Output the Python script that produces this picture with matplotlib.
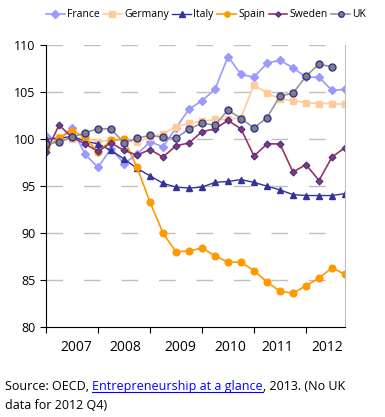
import numpy as np
import matplotlib
matplotlib.use("Agg")
import matplotlib.pyplot as plt

plt.rcParams['font.family'] = ['Open Sans', 'DejaVu Sans']

# quarterly index, 2007 Q1 .. 2012 Q4
years = ["2007", "2008", "2009", "2010", "2011", "2012"]
france = [100.3, 100.0, 101.2, 98.4, 97.0, 99.0, 97.4, 98.4, 99.7, 99.2, 101.2, 103.2,
          104.1, 105.3, 108.8, 106.9, 106.6, 108.1, 108.4, 107.6, 106.6, 106.6, 105.2, 105.3]
germany = [99.8, 100.2, 100.0, 100.2, 99.7, 99.9, 99.9, 99.7, 100.2, 100.6, 101.3, 101.7,
           101.9, 102.1, 102.1, 102.3, 105.8, 104.9, 104.3, 104.1, 103.9, 103.8, 103.8, 103.7]
italy = [100.0, 100.1, 100.3, 99.8, 99.5, 98.8, 97.9, 96.9, 96.1, 95.3, 94.9, 94.8,
         94.9, 95.4, 95.5, 95.7, 95.4, 95.0, 94.6, 94.1, 94.0, 94.0, 94.0, 94.2]
spain = [99.1, 100.1, 100.9, 100.2, 98.6, 99.9, 100.0, 97.0, 93.3, 90.0, 88.0, 88.1,
         88.4, 87.6, 86.9, 86.9, 86.0, 84.8, 83.8, 83.6, 84.4, 85.2, 86.3, 85.6]
sweden = [98.6, 101.5, 100.2, 99.5, 98.7, 99.6, 98.8, 98.3, 98.9, 98.1, 99.3, 99.6,
          100.8, 101.1, 102.0, 101.1, 98.2, 99.5, 99.5, 96.5, 97.3, 95.6, 98.1, 99.1]
uk = [99.5, 99.7, 100.2, 100.7, 101.1, 101.1, 99.6, 100.1, 100.4, 100.2, 100.1, 101.1,
      101.7, 101.5, 103.1, 102.2, 101.2, 102.3, 104.6, 104.9, 106.7, 108.0, 107.7, np.nan]

fig = plt.figure(figsize=(3.85, 4.17), dpi=100)
ax = fig.add_axes([0.1195, 0.2158, 0.7766, 0.6756])
q = np.arange(len(france))

ax.plot(q, france, color="#9999FF", lw=1.2, marker="D", ms=4.5, mfc="#9999FF", mec="#9999FF", label="France")
ax.plot(q, germany, color="#FFCC99", lw=1.2, marker="s", ms=5, mfc="#FFCC99", mec="#FFCC99", label="Germany")
ax.plot(q, italy, color="#333399", lw=1.0, marker="^", ms=5, mfc="#333399", mec="#333399", label="Italy")
ax.plot(q, spain, color="#FF9900", lw=1.2, marker="o", ms=4.8, mfc="#FF9900", mec="#FF9900", label="Spain")
ax.plot(q, sweden, color="#993366", lw=1.2, marker="D", ms=3.5, mfc="#993366", mec="#333399", mew=0.8, label="Sweden")
ax.plot(q, uk, color="#969696", lw=1.2, marker="o", ms=5, mfc="#808080", mec="#333399", mew=1.0, label="UK")

ax.set_xlim(0, 23)
ax.set_ylim(80, 110)
ax.set_yticks(np.arange(80, 111, 5))
for yv in range(85, 111, 5):
    ax.axhline(yv, color="#BFBFBF", lw=1.0, dashes=(12, 15), zorder=0)

ax.set_xticks(np.arange(0, 24, 4))
ax.set_xticklabels([])
ax.set_xticks([2.3, 6.1, 10.3, 14.2, 17.8, 21.6], minor=True)
ax.set_xticklabels(years, minor=True, fontsize=10)
ax.tick_params(axis="x", which="minor", length=0, pad=9)
ax.tick_params(axis="x", which="major", length=4, direction="out")
ax.tick_params(axis="y", length=4, direction="out", labelsize=9)

ax.spines["top"].set_visible(False)
ax.spines["right"].set_color("#BFBFBF")
ax.spines["left"].set_color("black")
ax.spines["bottom"].set_color("black")

fig.legend(loc="upper center", bbox_to_anchor=(0.535, 1.0), ncol=6, frameon=False,
           fontsize=7.5, handlelength=1.8, handletextpad=0.2, columnspacing=0.35,
           markerscale=0.8)

# source note, link part in blue with underline
fig.canvas.draw()
r = fig.canvas.get_renderer()
x0, y0 = 5 / 385, 1 - 390 / 417
fs = 9
t1 = fig.text(x0, y0, "Source: OECD, ", fontsize=fs, color="black")
bb1 = t1.get_window_extent(r)
t2 = fig.text(bb1.x1 / fig.bbox.width, y0, "Entrepreneurship at a glance", fontsize=fs, color="#0000FF")
bb2 = t2.get_window_extent(r)
fig.text(bb2.x1 / fig.bbox.width, y0, ", 2013. (No UK", fontsize=fs, color="black")
fig.add_artist(plt.Line2D([bb2.x0 / fig.bbox.width, bb2.x1 / fig.bbox.width],
                          [y0 - 2 / 417, y0 - 2 / 417], color="#0000FF", lw=0.8))
fig.text(x0, 1 - 409 / 417, "data for 2012 Q4)", fontsize=fs, color="black")

fig.savefig("out.png", dpi=100)
